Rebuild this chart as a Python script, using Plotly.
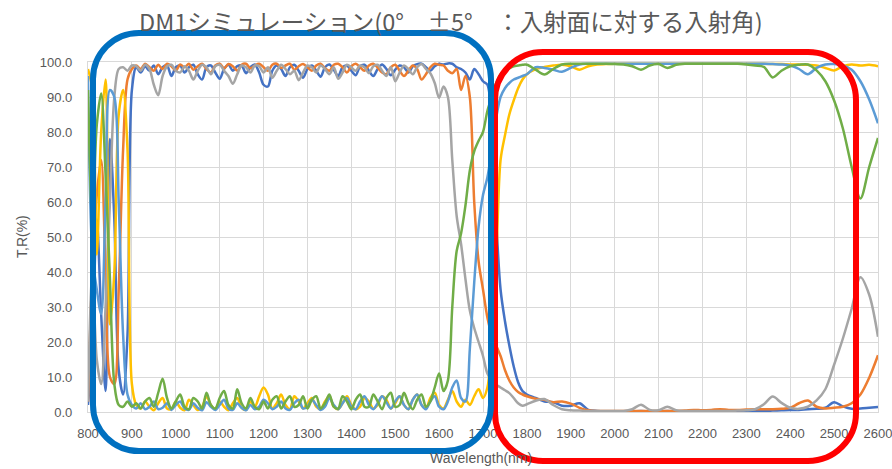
import plotly.graph_objects as go

# Sampling grid (nm): 10 nm steps up to 1800, then 20 nm steps
wavelength = list(range(800, 1801, 10)) + list(range(1820, 2601, 20))

# Reflectance-type curves
r_blue = [
    2, 20, 55, 28, 6, 78, 55, 12, 5, 22, 92,
    98.5, 97, 98.8, 97.5, 99, 96.5, 98.5, 99, 96, 98.5,
    99, 97, 98.5, 99.2, 96.5, 95, 98.5, 99, 97, 95.2,
    98, 99.2, 97.5, 98.8, 99, 96.8, 98.5, 99.3, 97, 93.5,
    93, 97.5, 99, 98, 96, 98.5, 99.2, 97.5, 95.5, 98,
    99, 97.5, 95.8, 98.5, 99.3, 97.8, 96, 98.5, 99, 97.5,
    96.2, 98.8, 99.2, 97.5, 96, 98, 99.3, 98, 96.2, 97.8,
    99, 98.5, 97, 98.8, 99.4, 99.5, 98.5, 97.5, 98.8, 99.5,
    99.3, 99.6, 99.5, 98.5, 98, 97, 95, 98, 96.5, 94.5,
    93.5, 82, 55, 35, 26, 19, 13, 8.5, 6, 5,
    4.0, 3.0, 2.8, 1.8, 1.8, 2.5, 0.6, 0.3, 0.2, 0.2,
    0.2, 0.2, 0.3, 0.2, 0.2, 0.3, 0.2, 0.2, 0.2, 0.2,
    0.2, 0.2, 0.3, 0.3, 0.3, 0.3, 0.3, 0.4, 0.5, 0.6,
    0.6, 0.8, 0.9, 1.2, 2.8, 1.6, 0.9, 1.0, 1.2, 1.4,
]
r_orange = [
    3, 40, 62, 72, 40, 10, 8, 35, 75, 95, 98,
    99, 98, 99.5, 98.5, 97.5, 99.2, 98, 99.5, 98.8, 97.5,
    99.3, 98.5, 99.5, 97.8, 98.8, 99.5, 98, 97, 99, 99.5,
    98.2, 99.4, 98.8, 97.5, 99.2, 99.5, 98.2, 99, 99.5, 98.5,
    97.5, 99.2, 99.5, 98.3, 99, 99.5, 97.8, 98.8, 99.4, 98.5,
    97.5, 99, 99.5, 98.2, 97.5, 99.2, 99.5, 98.5, 97, 98.8,
    99.5, 98.5, 97.5, 99, 99.5, 98.4, 97, 96.5, 98.5, 99.2,
    97.5, 96, 97.5, 99, 98, 95, 96.5, 98.5, 99.5, 99.2,
    99, 97.5, 96.8, 98, 92, 96, 90, 60, 43, 35,
    27, 22, 19, 16, 12, 9, 7, 5.7, 5, 4.5,
    3.8, 3.5, 2.8, 3.0, 2.4, 1.2, 0.5, 0.3, 0.3, 0.3,
    0.3, 0.3, 0.3, 0.3, 0.3, 0.3, 0.3, 0.4, 0.6, 0.5,
    0.6, 0.8, 0.6, 0.6, 0.7, 0.8, 0.8, 0.8, 0.9, 1.2,
    2.5, 3.3, 1.5, 1.0, 1.2, 1.5, 2.5, 5.0, 9.8, 16.2,
]
r_gray = [
    3, 40, 15, 8, 30, 60, 90, 98, 98.5, 97.5, 99,
    98.8, 97.5, 99.2, 98, 93.5, 90.5, 96, 98.8, 99.2, 97.5,
    97, 98.8, 97.5, 95, 97.5, 99.2, 98.5, 96.5, 98.8, 99.2,
    97.5, 96, 93.8, 96.5, 99, 98.5, 97, 99, 98.8, 97,
    98.5, 95.5, 97.5, 99.2, 98, 96.5, 97.5, 94.8, 97, 99,
    98.5, 97, 99, 98, 96.5, 98.5, 95.2, 97, 99.2, 98.5,
    97.5, 99, 98.5, 96.8, 98.8, 99.2, 97.5, 96, 98.5, 94.5,
    97, 99, 98, 96.5, 98.5, 99.4, 98, 96.8, 94, 89.8,
    93, 90, 72, 56, 48, 38, 29, 24, 20, 16,
    11, 9, 7.8, 7, 6.2, 5.4, 4, 2.5, 1.8, 2.2,
    3.2, 3.7, 2.0, 0.8, 0.5, 0.4, 0.3, 0.3, 0.3, 0.3,
    0.3, 0.8, 2.1, 0.6, 0.5, 1.5, 0.5, 0.3, 0.3, 0.3,
    0.3, 0.3, 0.3, 0.4, 0.5, 0.8, 2.2, 4.4, 2.6, 1.2,
    0.9, 1.5, 3.3, 6.5, 13.5, 21.0, 29.5, 38.5, 33.5, 21.5,
]

# Transmittance-type curves
t_yellow = [
    98, 92, 45, 80, 95, 25, 40, 85, 92, 75, 8,
    2, 1, 3, 1.5, 0.5, 2.5, 4, 1, 0.8, 3,
    1.2, 0.5, 3.5, 2, 0.6, 1.5, 4.5, 2, 0.8, 3,
    1.5, 0.5, 2.5, 4, 1.2, 0.6, 3, 1.5, 4.5, 7,
    5, 1, 2.5, 5, 2, 0.8, 4.5, 3, 1, 2.5,
    4, 1.5, 0.8, 3, 4.5, 1.5, 0.8, 2.5, 4.5, 2,
    0.8, 1.5, 4, 3, 1, 2, 4.5, 3.5, 1, 2.5,
    4.5, 2, 0.8, 3.5, 5, 2, 1, 4, 5.5, 2,
    1, 3.5, 6, 3, 1.5, 3.5, 2, 4.5, 6.5, 4,
    7, 20, 43, 72, 79, 85, 89, 92.5, 95, 96.5,
    98.0, 98.6, 99.0, 99.2, 98.8, 97.8, 98.8, 99.3, 99.4, 99.5,
    99.5, 99.5, 99.5, 99.5, 99.5, 99.5, 99.5, 99.5, 99.5, 99.5,
    99.5, 99.5, 99.5, 99.5, 99.5, 99.5, 99.5, 99.4, 99.4, 99.3,
    99.3, 99.2, 99.0, 98.3, 97.6, 98.8, 99.3, 99.0, 99.2, 98.8,
]
t_lightblue = [
    96, 45, 35, 28, 60, 92, 90, 60, 22, 5, 2,
    1, 2.5, 0.8, 1.5, 3, 0.8, 1.2, 2.5, 0.6, 2,
    3, 1, 0.6, 2.5, 1.2, 0.5, 2.8, 1.5, 0.6, 2,
    3.5, 1, 0.6, 2.5, 1.2, 0.5, 2, 0.8, 1.5, 3.5,
    2.5, 0.8, 1.5, 3, 1, 0.6, 2.5, 3.5, 1, 1.5,
    3.5, 2, 0.6, 1.5, 4, 2, 0.8, 2.5, 4, 1.5,
    0.8, 3, 4.5, 2, 0.8, 2.5, 4.5, 2.8, 1, 3,
    4.5, 2, 0.8, 3.5, 5, 2, 0.8, 3, 4.5, 1.5,
    0.8, 3, 7, 9, 4, 3, 18, 37, 53, 62,
    67, 75, 84, 90, 92.5, 94, 95, 95.5, 96, 96.5,
    98.5, 98.3, 97.8, 97.2, 98.3, 99.3, 99.5, 99.5, 99.5, 99.5,
    99.5, 99.5, 99.5, 99.5, 99.5, 99.5, 99.5, 99.5, 99.5, 99.5,
    99.5, 99.5, 99.5, 99.5, 99.5, 99.5, 99.5, 99.4, 99.3, 99.0,
    98.0, 96.5, 98.3, 99.3, 99.4, 99.0, 97.8, 94.5, 89.3, 82.5,
]
t_green = [
    92, 55, 82, 91, 68, 38, 8, 2, 1.5, 3, 1.5,
    2.5, 1, 3, 4, 1.5, 5.5, 9.5, 4, 1, 3,
    5, 1.5, 0.8, 4, 3, 1, 5.5, 2, 1, 4,
    6, 2, 1, 6.5, 2.5, 1, 4, 1.5, 0.8, 3,
    1, 3.5, 4.5, 1, 3, 4.5, 1.5, 2, 4.5, 1,
    3.5, 4.5, 1, 2.5, 5, 1.5, 1, 4.5, 3, 0.8,
    3.5, 5, 1.5, 1.5, 5, 3, 0.8, 4, 5.5, 1.5,
    2, 5.5, 2.5, 0.8, 3.5, 5, 1.5, 3, 7, 11,
    6, 9, 30, 46, 51, 59, 69, 74.5, 77.5, 80,
    86, 90, 94, 96.5, 97.5, 98.2, 98.8, 99, 99.2, 99.2,
    97.8, 96.4, 98.0, 99.3, 99.5, 99.5, 99.5, 99.5, 99.5, 99.4,
    99.3, 98.8, 97.8, 99.0, 99.4, 98.3, 99.2, 99.5, 99.5, 99.5,
    99.5, 99.5, 99.5, 99.5, 99.3, 99.0, 98.6, 95.6, 97.5, 98.8,
    99.2, 99.3, 97.6, 94.5, 89.0, 81.0, 70.0, 61.0, 70.0, 78.3,
]

series = [
    (r_blue, "#4472C4"),
    (r_orange, "#ED7D31"),
    (r_gray, "#A5A5A5"),
    (t_yellow, "#FFC000"),
    (t_lightblue, "#5B9BD5"),
    (t_green, "#70AD47"),
]
for values, _ in series:
    assert len(values) == len(wavelength), len(values)

x_ticks = list(range(800, 2601, 100))
y_ticks = list(range(0, 101, 10))

title_text = "DM1シミュレーション(0°　±5°　：入射面に対する入射角)"
x_title = "Wavelength(nm)"
y_title = "T,R(%)"

# Page geometry (pixels)
FIG_W, FIG_H = 892, 469
M_L, M_R, M_T, M_B = 88, 14, 62, 57
PLOT_W = FIG_W - M_L - M_R
PLOT_H = FIG_H - M_T - M_B

GRAY_TEXT = "#595959"
GRID = "#D9D9D9"


def to_paper(px, py):
    return (px - M_L) / PLOT_W, (FIG_H - M_B - py) / PLOT_H


def rounded_box(x0, y0, x1, y1, r):
    """Rounded rectangle outline from page-pixel corners, as a paper-space path."""
    k = 0.5523 * r
    pts = [
        ("M", [(x0 + r, y0)]),
        ("L", [(x1 - r, y0)]),
        ("C", [(x1 - r + k, y0), (x1, y0 + r - k), (x1, y0 + r)]),
        ("L", [(x1, y1 - r)]),
        ("C", [(x1, y1 - r + k), (x1 - r + k, y1), (x1 - r, y1)]),
        ("L", [(x0 + r, y1)]),
        ("C", [(x0 + r - k, y1), (x0, y1 - r + k), (x0, y1 - r)]),
        ("L", [(x0, y0 + r)]),
        ("C", [(x0, y0 + r - k), (x0 + r - k, y0), (x0 + r, y0)]),
    ]
    parts = []
    for cmd, coords in pts:
        conv = [to_paper(a, b) for a, b in coords]
        parts.append(cmd + " ".join(f"{u:.5f},{v:.5f}" for u, v in conv))
    return " ".join(parts) + " Z"


fig = go.Figure()
for values, color in series:
    fig.add_trace(go.Scatter(
        x=wavelength, y=values, mode="lines",
        line=dict(color=color, width=2.5, shape="spline", smoothing=0.9),
        hoverinfo="skip", showlegend=False,
    ))

tick_font = dict(family="Liberation Sans, Arial, sans-serif", size=13, color=GRAY_TEXT)

fig.update_xaxes(
    range=[800, 2600], tickvals=x_ticks, ticktext=[str(v) for v in x_ticks],
    showgrid=True, gridcolor=GRID, gridwidth=1.3,
    showline=True, linecolor=GRID, linewidth=1.3, mirror=True,
    ticks="outside", ticklen=9, tickcolor="rgba(0,0,0,0)",
    tickfont=tick_font, zeroline=False, automargin=False,
    ticklabeloverflow="allow",
)
fig.update_yaxes(
    range=[0, 100], tickvals=y_ticks, tickformat=".1f",
    showgrid=True, gridcolor=GRID, gridwidth=1.3,
    showline=True, linecolor=GRID, linewidth=1.3, mirror=True,
    ticks="outside", ticklen=12, tickcolor="rgba(0,0,0,0)",
    tickfont=tick_font, zeroline=False, automargin=False,
)

annotations = []
tx, ty = to_paper(451, 21)
annotations.append(dict(
    text=title_text, x=tx, y=ty, xref="paper", yref="paper",
    xanchor="center", yanchor="middle", showarrow=False,
    font=dict(family="Noto Sans CJK JP, sans-serif", size=23.5, color=GRAY_TEXT),
))
ax, ay = to_paper(481, 458)
annotations.append(dict(
    text=x_title, x=ax, y=ay, xref="paper", yref="paper",
    xanchor="center", yanchor="middle", showarrow=False,
    font=dict(family="Liberation Sans, Arial, sans-serif", size=14, color=GRAY_TEXT),
))
bx, by = to_paper(22, 237)
annotations.append(dict(
    text=y_title, x=bx, y=by, xref="paper", yref="paper", textangle=-90,
    xanchor="center", yanchor="middle", showarrow=False,
    font=dict(family="Liberation Sans, Arial, sans-serif", size=14, color=GRAY_TEXT),
))

shapes = [
    dict(type="path", xref="paper", yref="paper", layer="above",
         path=rounded_box(495, 52, 856, 461, 48),
         line=dict(color="#FF0000", width=6), fillcolor="rgba(0,0,0,0)"),
    dict(type="path", xref="paper", yref="paper", layer="above",
         path=rounded_box(93, 33, 491, 451, 46),
         line=dict(color="#0070C0", width=6), fillcolor="rgba(0,0,0,0)"),
]

fig.update_layout(
    width=FIG_W, height=FIG_H,
    margin=dict(l=M_L, r=M_R, t=M_T, b=M_B, pad=0),
    paper_bgcolor="white", plot_bgcolor="white",
    showlegend=False, annotations=annotations, shapes=shapes,
)

fig.write_html("out.html")
